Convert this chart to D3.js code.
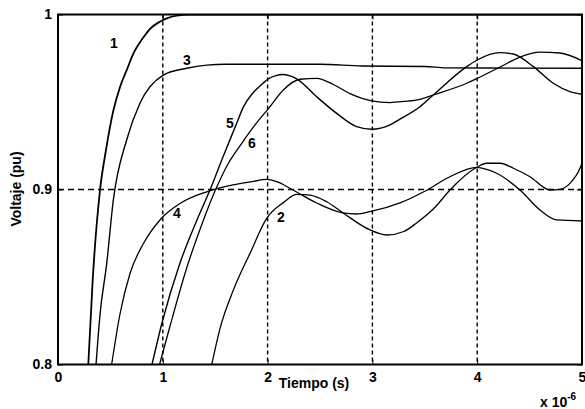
<!DOCTYPE html>
<html>
<head>
<meta charset="utf-8">
<script src="https://cdn.jsdelivr.net/npm/d3@7"></script>
<style>
  html, body { margin: 0; padding: 0; background: #fff; }
  svg { display: block; }
  text { font-family: Arial, "Liberation Sans", Helvetica, sans-serif; font-weight: bold; fill: #000; }
</style>
</head>
<body>
<svg id="chart" width="585" height="409"></svg>
<script>
// Time axis in units of 1e-6 s, voltage in per-unit
const xTicks = [0, 1, 2, 3, 4, 5];
const yTicks = [0.8, 0.9, 1];
const yTickLabels = ["0.8", "0.9", "1"];
const xGrid = [1, 2, 3, 4];
const yGrid = [0.9];

// Voltage responses, [time, voltage]
const curve1 = [[0.289,0.80],[0.331,0.8483],[0.401,0.8997],[0.458,0.9226],[0.525,0.9443],[0.592,0.9586],[0.656,0.9683],[0.719,0.9776],[0.814,0.9868],[0.878,0.9918],[0.973,0.9959],[1.037,0.9978],[1.133,0.9994],[1.26,1.0],[5.0,1.0]];
const curve2 = [[1.467,0.80],[1.55,0.8215],[1.673,0.8425],[1.832,0.8635],[1.991,0.8835],[2.15,0.8925],[2.278,0.8972],[2.405,0.8968],[2.564,0.893],[2.72,0.8866],[2.977,0.8769],[3.136,0.874],[3.3,0.876],[3.422,0.8809],[3.6,0.890],[3.74,0.8997],[3.996,0.9127],[4.09,0.915],[4.218,0.915],[4.35,0.912],[4.504,0.9073],[4.695,0.8997],[4.79,0.9001],[4.885,0.9035],[4.981,0.9121],[5.0,0.915]];
const curve3 = [[0.363,0.80],[0.40,0.828],[0.465,0.8578],[0.528,0.894],[0.655,0.9283],[0.782,0.9493],[1.005,0.9654],[1.228,0.9693],[1.419,0.9711],[1.6,0.9716],[2.5,0.9716],[2.9,0.9706],[3.5,0.9703],[3.7,0.9695],[5.0,0.9693]];
const curve4 = [[0.512,0.80],[0.592,0.829],[0.687,0.852],[0.814,0.869],[0.973,0.8826],[1.164,0.892],[1.419,0.8987],[1.670,0.9026],[1.85,0.9045],[1.991,0.9058],[2.087,0.9045],[2.243,0.8997],[2.468,0.8923],[2.719,0.8866],[2.85,0.886],[2.977,0.8873],[3.263,0.8923],[3.5,0.899],[3.74,0.9073],[3.996,0.9127],[4.055,0.9121],[4.186,0.9093],[4.408,0.8997],[4.599,0.8883],[4.759,0.8826],[5.0,0.882]];
const curve5 = [[0.897,0.80],[0.992,0.8237],[1.164,0.858],[1.326,0.8826],[1.45,0.8997],[1.574,0.9186],[1.705,0.9378],[1.768,0.9471],[1.851,0.9546],[1.927,0.9591],[2.01,0.9634],[2.08,0.9651],[2.137,0.9657],[2.214,0.9649],[2.281,0.9631],[2.468,0.953],[2.659,0.9435],[2.85,0.9359],[2.993,0.9344],[3.168,0.9369],[3.263,0.9402],[3.454,0.9473],[3.581,0.954],[3.9,0.9702],[4.0,0.974],[4.218,0.9782],[4.345,0.9774],[4.536,0.9702],[4.726,0.9607],[4.885,0.9559],[5.0,0.9544]];
const curve6 = [[0.969,0.80],[1.069,0.822],[1.231,0.8557],[1.374,0.8803],[1.498,0.8991],[1.622,0.9146],[1.753,0.9264],[1.88,0.9369],[2.01,0.9464],[2.15,0.9569],[2.309,0.963],[2.468,0.9635],[2.627,0.9600],[2.786,0.9548],[2.993,0.9507],[3.168,0.9497],[3.3,0.9503],[3.454,0.9515],[3.581,0.954],[3.9,0.9607],[4.0,0.9635],[4.218,0.970],[4.408,0.9757],[4.599,0.9785],[4.79,0.978],[5.0,0.9736]];

// Curve numbers and where they sit, [label, time, voltage]
const curveLabels = [["1",0.534,0.9837],["3",1.231,0.974],["5",1.641,0.938],["6",1.851,0.9266],["4",1.135,0.8866],["2",2.128,0.8843]];

const series = [
  { name: "1", values: curve1, width: 1.8 },
  { name: "2", values: curve2, width: 1.3 },
  { name: "3", values: curve3, width: 1.4 },
  { name: "4", values: curve4, width: 1.3 },
  { name: "5", values: curve5, width: 1.4 },
  { name: "6", values: curve6, width: 1.3 }
];

const svg = d3.select("#chart");
const plotL = 58, plotR = 582, plotT = 14.5, plotB = 364.5;

const x = d3.scaleLinear().domain([0, 5]).range([plotL, plotR]);
const y = d3.scaleLinear().domain([0.8, 1]).range([plotB, plotT]);

svg.append("defs").append("clipPath").attr("id", "plotclip")
  .append("rect").attr("x", plotL).attr("y", plotT)
  .attr("width", plotR - plotL).attr("height", plotB - plotT);

// Dashed grid
svg.append("g").selectAll("line").data(xGrid).join("line")
  .attr("x1", d => x(d)).attr("x2", d => x(d))
  .attr("y1", plotT).attr("y2", plotB)
  .attr("stroke", "#000").attr("stroke-width", 1.4)
  .attr("stroke-dasharray", "4,3");
svg.append("g").selectAll("line").data(yGrid).join("line")
  .attr("x1", plotL).attr("x2", plotR)
  .attr("y1", d => y(d)).attr("y2", d => y(d))
  .attr("stroke", "#000").attr("stroke-width", 1.4)
  .attr("stroke-dasharray", "6,4");

// Response curves
const line = d3.line().x(d => x(d[0])).y(d => y(d[1])).curve(d3.curveMonotoneX);
svg.append("g").attr("clip-path", "url(#plotclip)")
  .selectAll("path").data(series).join("path")
  .attr("d", d => line(d.values))
  .attr("fill", "none").attr("stroke", "#000")
  .attr("stroke-width", d => d.width)
  .attr("stroke-linejoin", "round");

// Axes with inward ticks
const fmtY = (d, i) => yTickLabels[i];
const axB = svg.append("g").attr("transform", `translate(0,${plotB})`)
  .call(d3.axisBottom(x).tickValues(xTicks).tickSize(-5).tickPadding(8).tickFormat(d3.format("d")));
const axL = svg.append("g").attr("transform", `translate(${plotL},0)`)
  .call(d3.axisLeft(y).tickValues(yTicks).tickSize(-5).tickPadding(6).tickFormat(fmtY));
const axT = svg.append("g").attr("transform", `translate(0,${plotT})`)
  .call(d3.axisTop(x).tickValues(xTicks).tickSize(-5).tickFormat(""));
const axR = svg.append("g").attr("transform", `translate(${plotR},0)`)
  .call(d3.axisRight(y).tickValues(yTicks).tickSize(-5).tickFormat(""));
[axB, axL, axT, axR].forEach(g => {
  g.select(".domain").remove();
  g.selectAll(".tick line").attr("stroke", "#000").attr("stroke-width", 1);
  g.selectAll("text").attr("font-size", 14).attr("font-family", "Arial, 'Liberation Sans', sans-serif").attr("font-weight", "bold");
});

// Frame
svg.append("rect").attr("x", plotL).attr("y", plotT)
  .attr("width", plotR - plotL).attr("height", plotB - plotT)
  .attr("fill", "none").attr("stroke", "#000").attr("stroke-width", 2);

// Curve numbers
svg.append("g").selectAll("text").data(curveLabels).join("text")
  .attr("x", d => x(d[1])).attr("y", d => y(d[2]))
  .attr("text-anchor", "middle").attr("dominant-baseline", "central")
  .attr("font-size", 14)
  .text(d => d[0]);

// Axis titles
svg.append("text").attr("x", 314).attr("y", 388)
  .attr("text-anchor", "middle").attr("font-size", 14)
  .text("Tiempo (s)");
svg.append("text").attr("transform", "translate(21,189) rotate(-90)")
  .attr("text-anchor", "middle").attr("font-size", 14)
  .text("Voltaje (pu)");

// Exponent for the time axis
const expo = svg.append("text").attr("x", 540).attr("y", 407).attr("font-size", 14);
expo.append("tspan").text("x 10");
expo.append("tspan").attr("dy", -7).attr("font-size", 10).text("-6");
</script>
</body>
</html>
